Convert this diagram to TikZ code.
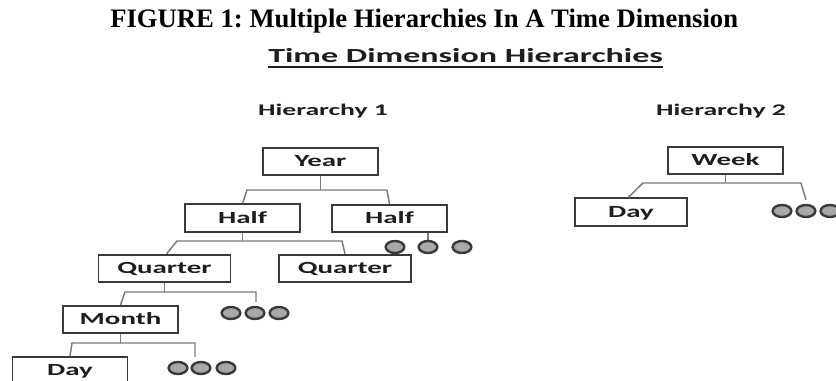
\documentclass[tikz,border=0pt]{standalone}
\usepackage{fontspec}
\newfontfamily\titlefont{Liberation Serif}
\newfontfamily\diagfont{Carlito}[FakeStretch=1.7]
\usetikzlibrary{calc,shapes.geometric}
\definecolor{boxc}{HTML}{3A3A3A}
\definecolor{connc}{HTML}{7A7A7A}
\definecolor{txtc}{HTML}{1E1E1E}
\definecolor{dotfill}{HTML}{A8A8A8}
\frenchspacing
\begin{document}
\begin{tikzpicture}[x=0.75pt,y=-0.75pt,
  hbox/.style={draw=boxc, line width=1.3pt, minimum width=86.25pt, minimum height=20.6pt,
    inner sep=0pt, text height=8pt, text depth=0pt,
    font=\diagfont\bfseries\fontsize{12.75pt}{14pt}\selectfont, text=txtc},
  qbox/.style={hbox, minimum width=99pt},
  conn/.style={draw=connc, line width=1.1pt},
  dot/.style={ellipse, draw=boxc, fill=dotfill, line width=1.8pt, minimum width=14pt, minimum height=9pt, inner sep=0pt},
  hlabel/.style={anchor=base, inner sep=0pt, text=txtc, font=\diagfont\bfseries\fontsize{12.2pt}{14pt}\selectfont}]
\useasboundingbox (0,0) rectangle (836,381);
\fill[white] (0,0) rectangle (836,381);
\clip (0,0) rectangle (836,381);

% titles
\node[anchor=base west, inner sep=0pt, font=\titlefont\bfseries\fontsize{20pt}{24pt}\selectfont] (title) at (110,28) {FIGURE 1: Multiple Hierarchies In A Time Dimension};
\node[anchor=base west, inner sep=0pt, text=txtc, font=\diagfont\bfseries\fontsize{15pt}{18pt}\selectfont] (sub) at (268,63) {Time Dimension Hierarchies};
\draw[line width=1.5pt, draw=txtc] ([yshift=-3pt]sub.base west) -- ([yshift=-3pt]sub.base east);

\node[hlabel] (h1) at (323,116) {Hierarchy 1};
\node[hlabel] (h2) at (721,116) {Hierarchy 2};

% Hierarchy 1 boxes
\node[hbox] (year) at (320.5,161.5) {Year};
\node[hbox] (halfL) at (242.5,218) {Half};
\node[hbox] (halfR) at (389.5,218.5) {Half};
\node[qbox] (qL) at (164.5,268.5) {Quarter};
\node[qbox] (qR) at (345,268.5) {Quarter};
\node[hbox] (month) at (120.5,319.5) {Month};
\node[hbox] (dayA) at (70,370.5) {Day};

% dots
\node[dot] (hr1) at (395,247) {};
\node[dot] (hr2) at (428,247) {};
\node[dot] (hr3) at (462,247) {};
\node[dot] (q1) at (231,313) {};
\node[dot] (q2) at (255,313) {};
\node[dot] (q3) at (279,313) {};
\node[dot] (m1) at (178,368) {};
\node[dot] (m2) at (201,368) {};
\node[dot] (m3) at (226,368) {};

% connectors hierarchy 1
\coordinate (b1L) at (247,190);
\coordinate (b1R) at (387,190);
\draw[conn] (year.south) -- (year.south |- b1L);
\draw[conn] (halfL.north) -- (b1L) -- (b1R) -- (halfR.north);

\coordinate (b2L) at (177,241);
\coordinate (b2R) at (342,241);
\draw[conn] (halfL.south) -- (halfL.south |- b2L);
\draw[conn] ([xshift=1.5pt]qL.north) -- (b2L) -- (b2R) -- (qR.north);

\draw[conn] (hr2.north |- halfR.south) -- (hr2.north);

\coordinate (b3L) at (125,292);
\coordinate (b3R) at (256,292);
\draw[conn] (qL.south) -- (qL.south |- b3L);
\draw[conn] (month.north) -- (b3L) -- (b3R) -- ([yshift=3pt]b3R |- q2.north);

\coordinate (b4L) at (72,343);
\coordinate (b4R) at (195,343);
\draw[conn] (month.south) -- (month.south |- b4L);
\draw[conn] (dayA.north) -- (b4L) -- (b4R) -- ([yshift=3pt]b4R |- m2.north);

% Hierarchy 2
\node[hbox] (week) at (725.5,160.5) {Week};
\node[hbox, minimum width=84pt] (dayB) at (631,212) {Day};
\node[dot] (w1) at (782,211) {};
\node[dot] (w2) at (806,211) {};
\node[dot] (w3) at (830,211) {};
\coordinate (b5L) at (643,183);
\coordinate (b5R) at (801,183);
\draw[conn] (week.south) -- (week.south |- b5L);
\draw[conn] ([xshift=-2pt]dayB.north) -- (b5L) -- (b5R) -- ([yshift=3pt]w2.north);
\end{tikzpicture}
\end{document}
